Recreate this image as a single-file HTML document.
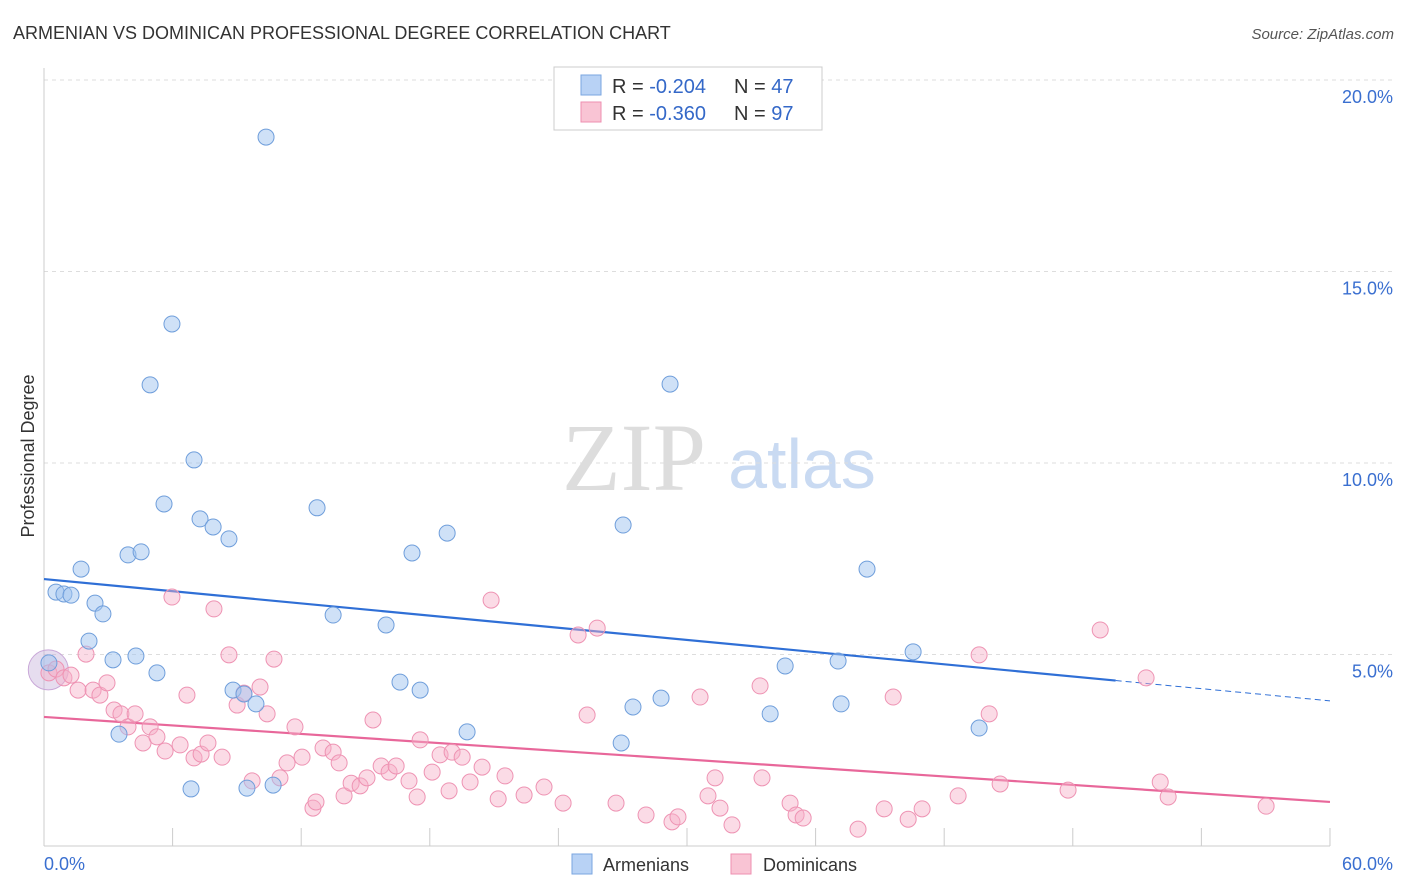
<!DOCTYPE html>
<html><head><meta charset="utf-8"><style>
body{margin:0;background:#fff;font-family:"Liberation Sans",sans-serif;}
svg{display:block}
</style></head><body>
<svg id="chart" width="1406" height="892">
<text x="13" y="39" font-size="18" fill="#333">ARMENIAN VS DOMINICAN PROFESSIONAL DEGREE CORRELATION CHART</text>
<text x="1394" y="39" font-size="15" fill="#555" font-style="italic" text-anchor="end">Source: ZipAtlas.com</text>
<text x="34" y="456" font-size="18" fill="#333" text-anchor="middle" transform="rotate(-90 34 456)">Professional Degree</text>
<g>
<text x="634" y="490" font-size="96" fill="#ddd" font-family="Liberation Serif,serif" text-anchor="middle">ZIP</text>
<text x="802" y="488" font-size="70" fill="#c9daf2" text-anchor="middle">atlas</text>
</g>
<g id="grid"></g><g id="axes"></g><g id="lines"></g><g id="pts"></g>
<g>
<rect x="554" y="67" width="268" height="63" fill="#fff" stroke="#ccc"/>
<rect x="581" y="75" width="20" height="20" fill="#b8d2f5" stroke="#7aa6e0"/>
<rect x="581" y="102" width="20" height="20" fill="#f9c4d4" stroke="#ee8fb0"/>
<text x="612" y="93" font-size="20" fill="#333">R = <tspan fill="#3468c8">-0.204</tspan><tspan dx="28">N = </tspan><tspan fill="#3468c8">47</tspan></text>
<text x="612" y="120" font-size="20" fill="#333">R = <tspan fill="#3468c8">-0.360</tspan><tspan dx="28">N = </tspan><tspan fill="#3468c8">97</tspan></text>
</g>
<g>
<rect x="572" y="854" width="20" height="20" fill="#b8d2f5" stroke="#7aa6e0"/>
<text x="603" y="871" font-size="18" fill="#333">Armenians</text>
<rect x="731" y="854" width="20" height="20" fill="#f9c4d4" stroke="#ee8fb0"/>
<text x="763" y="871" font-size="18" fill="#333">Dominicans</text>
</g>
</svg>
<script>
const yTicks=[5,10,15,20];
const yTickLabels=["5.0%","10.0%","15.0%","20.0%"];
const xTickLabels=["0.0%","60.0%"];
const blueX=[10.36,5.97,4.95,29.21,7.0,5.6,12.74,7.28,7.89,8.63,18.81,27.02,17.17,3.92,4.53,1.73,38.4,0.56,0.93,1.26,2.38,2.75,13.49,15.96,2.1,4.29,3.22,5.27,0.23,34.58,37.05,40.55,16.61,17.55,8.82,9.33,9.89,28.79,27.48,37.19,33.88,3.5,19.74,26.93,43.63,6.86,9.47,10.69];
const blueY=[18.51,13.63,12.04,12.06,10.08,8.93,8.83,8.54,8.33,8.02,8.17,8.38,7.65,7.6,7.68,7.23,7.23,6.63,6.58,6.55,6.34,6.06,6.03,5.77,5.35,4.96,4.86,4.52,4.78,4.7,4.83,5.07,4.28,4.07,4.07,3.97,3.71,3.86,3.63,3.71,3.45,2.92,2.98,2.69,3.08,1.49,1.51,1.59];
const pinkX=[0.23,0.56,0.93,1.26,1.59,1.96,2.29,2.61,2.94,3.27,3.59,3.92,4.25,4.62,4.95,5.27,5.65,5.97,6.35,6.67,7.0,7.33,7.65,7.93,8.31,8.63,9.01,9.33,9.71,10.08,10.41,10.73,11.01,11.34,11.71,12.04,12.55,12.69,13.02,13.49,13.77,14.0,14.33,14.75,15.07,15.35,15.73,16.1,16.43,17.03,17.41,17.55,18.11,18.48,18.9,19.04,19.51,19.88,20.44,20.86,21.19,21.51,22.4,23.33,24.22,24.92,25.34,25.81,26.69,28.09,29.3,29.58,30.61,30.98,31.31,31.54,32.1,33.41,33.5,34.81,35.09,35.42,37.98,39.2,39.62,40.32,40.97,42.65,43.63,44.1,44.61,47.78,49.28,51.42,52.08,52.45,57.02];
const pinkY=[4.52,4.62,4.39,4.46,4.07,5.01,4.07,3.94,4.26,3.55,3.45,3.11,3.45,2.69,3.11,2.85,2.48,6.5,2.64,3.94,2.3,2.4,2.69,6.19,2.32,4.99,3.68,3.99,1.7,4.15,3.45,4.88,1.78,2.17,3.11,2.32,0.99,1.15,2.56,2.45,2.17,1.31,1.64,1.57,1.78,3.29,2.09,1.93,2.09,1.7,1.28,2.77,1.93,2.38,1.44,2.45,2.32,1.67,2.06,6.42,1.23,1.83,1.33,1.54,1.12,5.51,3.42,5.69,1.12,0.81,0.63,0.76,3.89,1.31,1.78,0.99,0.55,4.18,1.78,1.12,0.81,0.73,0.44,0.97,3.89,0.7,0.97,1.31,4.99,3.45,1.62,1.46,5.64,4.39,1.67,1.28,1.04];
const blueTrend=[6.97,3.79];
const pinkTrend=[3.37,1.15];
const blueSolidEnd=50;
const sx=v=>44+v*21.433, sy=v=>846-v*38.3;
const NS="http://www.w3.org/2000/svg";
function mk(tag,attrs,parent){const e=document.createElementNS(NS,tag);for(const k in attrs)e.setAttribute(k,attrs[k]);document.getElementById(parent).appendChild(e);return e;}
yTicks.forEach((t,i)=>{
 const g=mk('line',{x1:44,x2:1394,y1:sy(t),y2:sy(t),stroke:'#ddd','stroke-dasharray':'4,4'},'grid');
 
 
 const l=mk('text',{x:1393,y:sy(t)+23,'font-size':18,fill:'#3a6fd0','text-anchor':'end'},'axes');
 l.textContent=yTickLabels[i];
 
 
});
mk('line',{x1:44,x2:44,y1:68,y2:846,stroke:'#ccc'},'axes');
mk('line',{x1:44,x2:1330,y1:846,y2:846,stroke:'#ccc'},'axes');
for(let i=0;i<=10;i++){const t=mk('line',{x1:sx(i*6),x2:sx(i*6),y1:828,y2:846,stroke:'#ccc'},'axes');
 
 }
[[0,44,'start'],[60,1393,'end']].forEach((a,i)=>{const t=mk('text',{x:a[1],y:870,'font-size':18,fill:'#3a6fd0','text-anchor':a[2]},'axes');t.textContent=xTickLabels[i];
 
 });
const bAt=x=>blueTrend[0]+(blueTrend[1]-blueTrend[0])*x/60;
const bl=mk('line',{x1:sx(0),y1:sy(bAt(0)),x2:sx(blueSolidEnd),y2:sy(bAt(blueSolidEnd)),stroke:'#2f6fd6','stroke-width':2.2},'lines');


const bd=mk('line',{x1:sx(blueSolidEnd),y1:sy(bAt(blueSolidEnd)),x2:sx(60),y2:sy(bAt(60)),stroke:'#2f6fd6','stroke-width':1,'stroke-dasharray':'6,4'},'lines');


const pl=mk('line',{x1:sx(0),y1:sy(pinkTrend[0]),x2:sx(60),y2:sy(pinkTrend[1]),stroke:'#e8679a','stroke-width':2.2},'lines');


const big=mk('circle',{cx:sx(0.2),cy:sy(4.6),r:20,fill:'rgba(200,180,220,0.45)',stroke:'#c9a8d8'},'pts');


pinkX.forEach((x,i)=>{const c=mk('circle',{cx:sx(x),cy:sy(pinkY[i]),r:8,fill:'rgba(247,176,200,0.45)',stroke:'#ee93b3','stroke-width':1},'pts');
 
 });
blueX.forEach((x,i)=>{const c=mk('circle',{cx:sx(x),cy:sy(blueY[i]),r:8,fill:'rgba(160,196,240,0.5)',stroke:'#6f9edb','stroke-width':1},'pts');
 
 });
</script>
</body></html>
